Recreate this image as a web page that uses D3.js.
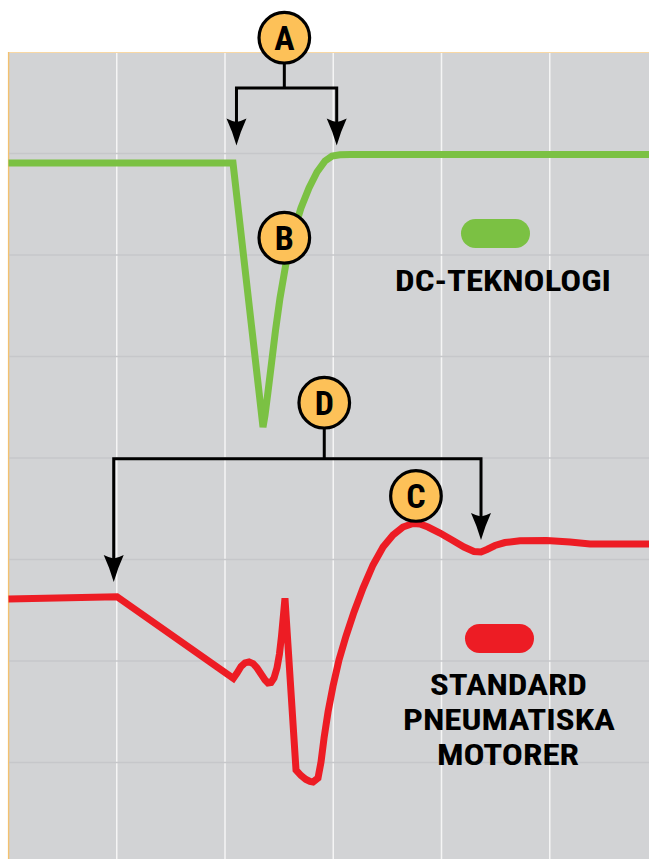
<!DOCTYPE html>
<html><head><meta charset="utf-8">
<script src="https://cdn.jsdelivr.net/npm/d3@7"></script>
<style>html,body{margin:0;padding:0;background:#fff;} svg{display:block}</style>
</head><body>
<svg id="chart" width="649" height="859"></svg>
<script>
// ---- data (grid units: x time, y level) ----
const xGrid = [1, 2, 3, 4, 5];
const yGrid = [1, 2, 3, 4, 5, 6, 7];

const dcX = [0, 2.074, 2.351, 2.370, 2.397, 2.431, 2.467, 2.508, 2.564, 2.628, 2.702, 2.776, 2.850, 2.924, 2.989, 3.062, 3.155, 5.92];
const dcY = [6.906, 6.906, 4.305, 4.424, 4.650, 4.946, 5.261, 5.576, 5.921, 6.207, 6.463, 6.660, 6.818, 6.926, 6.975, 6.988, 6.990, 6.990];

const stdX = [0, 1.002, 2.077, 2.111, 2.148, 2.185, 2.222, 2.259, 2.296, 2.333, 2.370, 2.397, 2.425, 2.453, 2.480, 2.503, 2.522, 2.540, 2.554,
  2.656, 2.702, 2.748, 2.785, 2.813, 2.859, 2.887, 2.915, 2.952, 2.998, 3.053, 3.118, 3.192, 3.275, 3.367, 3.460, 3.552, 3.644, 3.737, 3.801, 3.875,
  3.986, 4.097, 4.208, 4.300, 4.365, 4.420, 4.494, 4.586, 4.725, 4.972, 5.187, 5.372, 5.92];
const stdY = [2.611, 2.633, 1.830, 1.882, 1.946, 1.982, 1.992, 1.975, 1.931, 1.872, 1.813, 1.783, 1.788, 1.833, 1.931, 2.069, 2.246, 2.453, 2.618,
  0.926, 0.872, 0.833, 0.813, 0.808, 0.847, 1.005, 1.241, 1.498, 1.754, 2.010, 2.246, 2.483, 2.719, 2.946, 3.123, 3.241, 3.320, 3.355, 3.350, 3.320,
  3.261, 3.192, 3.123, 3.079, 3.074, 3.099, 3.138, 3.167, 3.185, 3.187, 3.172, 3.153, 3.153];

const markerLabels = ["A", "B", "C", "D"];
const markerX = [2.548, 2.548, 3.764, 2.917];
const markerY = [8.141, 6.170, 3.626, 4.545];

const bracketLabels = ["A", "D"];
const bracketBarY = [7.645, 3.993];
const bracketLeftX = [2.106, 0.972];
const bracketLeftTip = [7.08, 2.778];
const bracketRightX = [3.032, 4.365];
const bracketRightTip = [7.08, 3.192];

const legendTexts = ["DC-TEKNOLOGI", "STANDARD", "PNEUMATISKA", "MOTORER"];

// ---- layout ----
const svg = d3.select("#chart");
const W = 649, H = 859;
const x = d3.scaleLinear().domain([0, 6]).range([8.5, 8.5 + 6 * 108.25]);
const y = d3.scaleLinear().domain([0, 8]).range([864, 52]);

const FONT = "'Liberation Sans Narrow','Roboto Condensed','DejaVu Sans Condensed','Arial Narrow',sans-serif";

svg.append("rect").attr("x", 9).attr("y", 53).attr("width", W - 9).attr("height", H - 53).attr("fill", "#d2d3d5");
svg.append("line").attr("x1", 8.5).attr("x2", W).attr("y1", 52.5).attr("y2", 52.5).attr("stroke", "#f9d8a4").attr("stroke-width", 1.2);
svg.append("line").attr("x1", 8.6).attr("x2", 8.6).attr("y1", 52).attr("y2", H).attr("stroke", "#f3c170").attr("stroke-width", 1.4);

svg.append("g").selectAll("line").data(xGrid).join("line")
  .attr("x1", d => x(d)).attr("x2", d => x(d)).attr("y1", 53).attr("y2", H)
  .attr("stroke", "#f5f5f5").attr("stroke-width", 1.5);
svg.append("g").selectAll("line").data(yGrid).join("line")
  .attr("x1", 9).attr("x2", W).attr("y1", d => y(d)).attr("y2", d => y(d))
  .attr("stroke", "#c6c7ca").attr("stroke-width", 1.4);

const line = d3.line().x(d => x(d[0])).y(d => y(d[1])).curve(d3.curveLinear);
const dcData = dcX.map((v, i) => [v, dcY[i]]);
const stdData = stdX.map((v, i) => [v, stdY[i]]);

svg.append("path").datum(dcData).attr("d", line)
  .attr("fill", "none").attr("stroke", "#7bc143").attr("stroke-width", 7)
  .attr("stroke-linejoin", "miter").attr("stroke-miterlimit", 4);
svg.append("path").datum(stdData).attr("d", line)
  .attr("fill", "none").attr("stroke", "#ed1c24").attr("stroke-width", 7)
  .attr("stroke-linejoin", "miter").attr("stroke-miterlimit", 4);

const arrowPath = "M0,0 Q-4,-14 -10,-27 Q-5,-24.5 0,-23.5 Q5,-24.5 10,-27 Q4,-14 0,0 Z";
const gB = svg.append("g");
bracketLabels.forEach((lab, i) => {
  const mi = markerLabels.indexOf(lab);
  const cx = x(markerX[mi]), cy = y(markerY[mi]);
  const by = y(bracketBarY[i]);
  const lx = x(bracketLeftX[i]), rx = x(bracketRightX[i]);
  const lt = y(bracketLeftTip[i]), rt = y(bracketRightTip[i]);
  gB.append("path")
    .attr("d", `M${cx},${cy} V${by} M${lx},${lt - 22} V${by} H${rx} V${rt - 22}`)
    .attr("fill", "none").attr("stroke", "#000").attr("stroke-width", 3)
    .attr("stroke-linejoin", "miter").attr("stroke-linecap", "square");
  gB.append("path").attr("d", arrowPath).attr("transform", `translate(${lx},${lt})`).attr("fill", "#000");
  gB.append("path").attr("d", arrowPath).attr("transform", `translate(${rx},${rt})`).attr("fill", "#000");
});

const gM = svg.append("g");
markerLabels.forEach((lab, i) => {
  const cx = x(markerX[i]), cy = y(markerY[i]);
  gM.append("circle").attr("cx", cx).attr("cy", cy).attr("r", 25.3)
    .attr("fill", "#fdc158").attr("stroke", "#000").attr("stroke-width", 3.2);
  gM.append("text").attr("x", cx).attr("y", cy + 12.5)
    .attr("text-anchor", "middle").attr("font-family", FONT).attr("font-weight", "bold")
    .attr("font-size", 34).attr("fill", "#000").text(lab);
});

svg.append("rect").attr("x", 461).attr("y", 219).attr("width", 69).attr("height", 29).attr("rx", 14.5).attr("fill", "#7bc143");
svg.append("rect").attr("x", 465).attr("y", 624).attr("width", 69).attr("height", 29).attr("rx", 14.5).attr("fill", "#ed1c24");

const legendPos = [
  {x: 395, y: 291, w: 216},
  {x: 430, y: 695, w: 157},
  {x: 403, y: 730, w: 212},
  {x: 437, y: 765, w: 142}
];
svg.append("g").selectAll("text").data(legendTexts).join("text")
  .attr("x", (d, i) => legendPos[i].x).attr("y", (d, i) => legendPos[i].y)
  .attr("textLength", (d, i) => legendPos[i].w).attr("lengthAdjust", "spacingAndGlyphs")
  .attr("font-family", FONT).attr("font-weight", "bold").attr("font-size", 30)
  .attr("fill", "#000").text(d => d);
</script>
</body></html>
